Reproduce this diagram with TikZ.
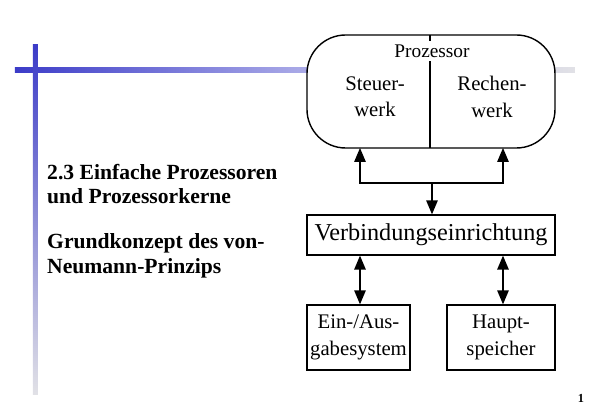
\documentclass[tikz,border=0pt]{standalone}
\usepackage{fontspec}
\setmainfont{Liberation Serif}
\usetikzlibrary{arrows,positioning}
\definecolor{barblue}{RGB}{60,60,200}
\definecolor{barfade}{RGB}{225,225,230}
\tikzstyle{block} = [draw, thick, rectangle, inner sep=0pt, font=\fontsize{11.8}{15}\selectfont, align=center]
\tikzstyle{title} = [font=\bfseries\fontsize{12.3}{14}\selectfont, align=left, anchor=west]
\begin{document}
\begin{tikzpicture}[x=0.02cm, y=-0.02cm, >=triangle 45]
    \useasboundingbox (0,0) rectangle (600,415);
    % slide decoration
    \shade[left color=barblue, right color=barfade, middle color=barblue!45] (15,68) rectangle (575,73);
    \shade[top color=barblue, bottom color=barfade] (33,45) rectangle (38,395);
    % title text
    \node [title] (head) at (41,184) {2.3 Einfache Prozessoren\\und Prozessorkerne};
    \node [title] (sub) at (41,256) {Grundkonzept des von-\\Neumann-Prinzips};
    \node [font=\bfseries\scriptsize] (page) at (581,398) {1};

    % the blocks
    \draw [thick, fill=white, rounded corners=22] (307,35) rectangle (555,148);
    \draw [thick] (430,35) -- (430,148);
    \node [block, draw=none, fill=white, inner sep=2pt, font=\fontsize{11}{13}\selectfont] (proc) at (432,51) {Prozessor};
    \node [block, draw=none] (steuer) at (375,97) {Steuer-\\werk};
    \node [block, draw=none] (rechen) at (492,97) {Rechen-\\werk};
    \coordinate (psw) at (360,148);
    \coordinate (prw) at (503,148);
    \node [block, minimum width=248*0.02cm, minimum height=40*0.02cm, font=\fontsize{13.8}{15}\selectfont] (vbe) at (431,235) {Verbindungseinrichtung};
    \node [block, minimum width=103*0.02cm, minimum height=65*0.02cm] (io) at (358.5,337.5) {Ein-/Aus-\\gabesystem};
    \node [block, minimum width=108*0.02cm, minimum height=65*0.02cm] (mem) at (501,337.5) {Haupt-\\speicher};

    % connections
    \coordinate (bus) at (432,183);
    \draw [thick, <->] (psw) |- (bus) -| (prw);
    \draw [thick, ->] (bus) -- (vbe.north -| bus);
    \draw [thick, <->] (vbe.south -| psw) -- (io.north -| psw);
    \draw [thick, <->] (vbe.south -| prw) -- (mem.north -| prw);
\end{tikzpicture}
\end{document}
